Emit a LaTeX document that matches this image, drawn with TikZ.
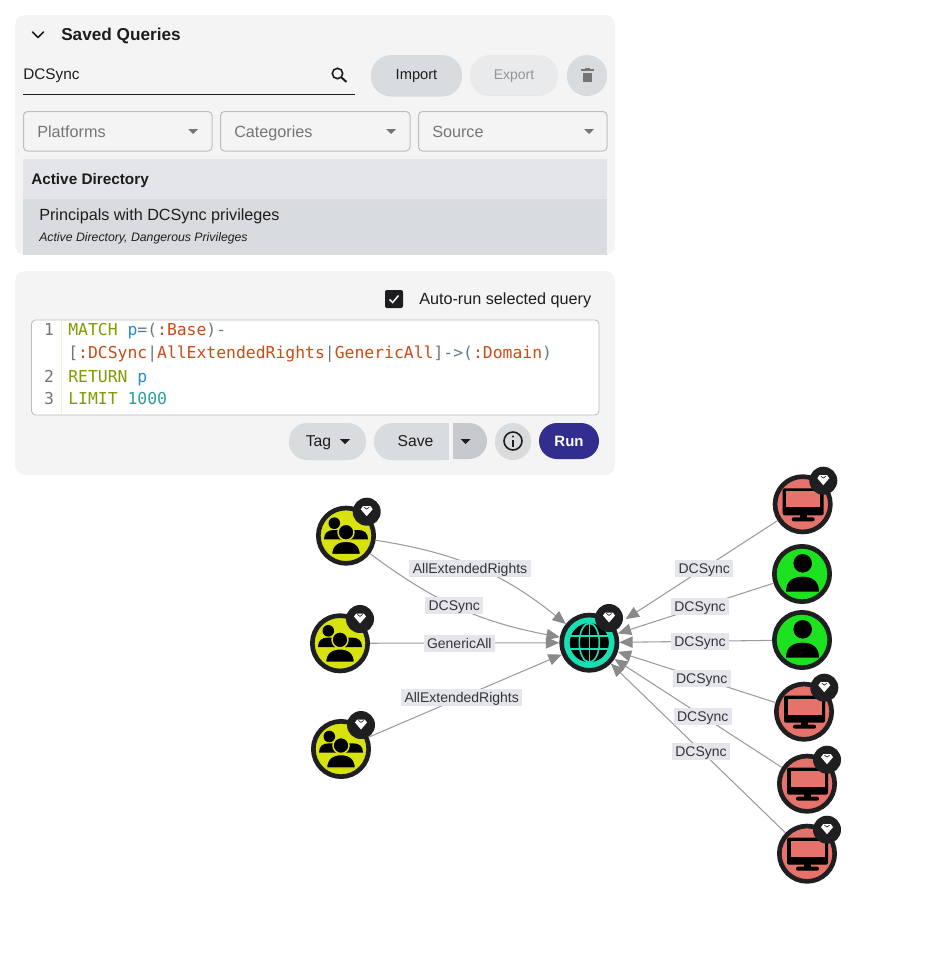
\documentclass[tikz,border=0pt]{standalone}
\usepackage{fontspec}
\setmainfont{Liberation Sans}
\setmonofont{DejaVu Sans Mono}
\usetikzlibrary{arrows.meta}
\definecolor{panelbg}{HTML}{F4F4F5}
\definecolor{btn}{HTML}{D9DCDF}
\definecolor{btnlight}{HTML}{E8EAEC}
\definecolor{btndark}{HTML}{C6CACE}
\definecolor{hdr}{HTML}{E3E5E8}
\definecolor{ink}{HTML}{1D1D1F}
\definecolor{hint}{HTML}{757575}
\definecolor{rule}{HTML}{BDBDBD}
\definecolor{runblue}{HTML}{312E8F}
\definecolor{kw}{HTML}{859900}
\definecolor{varc}{HTML}{268BD2}
\definecolor{lab}{HTML}{CB4B16}
\definecolor{punc}{HTML}{657B83}
\definecolor{numc}{HTML}{2AA198}
\definecolor{gutter}{HTML}{FBEBD8}
\definecolor{grp}{HTML}{D7E20F}
\definecolor{dom}{HTML}{19E0B4}
\definecolor{comp}{HTML}{E5736B}
\definecolor{usr}{HTML}{1DE21F}
\definecolor{stroke}{HTML}{1F1F21}
\definecolor{edgec}{HTML}{9C9C9C}
\definecolor{tipc}{HTML}{8A8A8A}
\definecolor{labbg}{HTML}{E4E6EB}
\newcommand{\codefont}{\ttfamily\fontsize{12.3pt}{14pt}\selectfont}
\tikzset{
  txt/.style={inner sep=0pt,anchor=west,yshift=-1.1pt,text=ink,text height=9pt,text depth=2.5pt,font=\fontsize{12.15pt}{14pt}\selectfont},
  hinttxt/.style={txt,text=hint},
  btntxt/.style={inner sep=0pt,yshift=-0.8pt,text=ink,text height=9pt,text depth=2.5pt,font=\fontsize{11pt}{12pt}\selectfont},
  code/.style={inner sep=0pt,anchor=base west,font=\codefont},
  lnum/.style={inner sep=0pt,anchor=base,text=hint,font=\codefont},
  caret/.style={fill=#1,draw=none},
  entity/.style={circle,draw=stroke,line width=3.5pt,minimum size=41.5pt,inner sep=0pt,fill=#1},
  badge/.style={circle,fill=stroke,minimum size=21pt,inner sep=0pt},
  edge/.style={draw=edgec,line width=0.8pt,-{Triangle[length=10pt,width=8.5pt,fill=tipc,color=tipc]}},
  elabel/.style={fill=labbg,text=ink!90,inner xsep=2.5pt,inner ysep=0pt,minimum height=12.75pt,text height=8.6pt,text depth=0.9pt,font=\fontsize{10.5pt}{12pt}\selectfont},
  pics/gem/.style={code={
    \fill[white] (-6,-2.5)--(-3.8,-5.5)--(3.8,-5.5)--(6,-2.5)--(0,4.5)--cycle;
    \draw[stroke,line width=0.4pt] (-2.6,-4.6)--(0,-2.6)--(2.6,-4.6);
  }},
  pics/groupicon/.style={code={
    \fill[black] (-11.7,-12.5) circle[radius=5.8];
    \fill[black] (-22,3.7)--(22,3.7) .. controls (22,-3) and (18,-5.7) .. (12,-5.7) -- (-12,-5.7) .. controls (-18,-5.7) and (-22,-3) .. (-22,3.7) -- cycle;
    \filldraw[black,draw=grp,line width=1.1pt] (0,-3.5) circle[radius=8];
    \filldraw[black,draw=grp,line width=1.1pt] (-14.5,19) -- (14.5,19) .. controls (14.5,10) and (9,5.5) .. (0,5.5) .. controls (-9,5.5) and (-14.5,10) .. (-14.5,19) -- cycle;
  }},
  pics/usericon/.style={code={
    \fill[black] (0.7,-10.7) circle[radius=9.3];
    \fill[black] (-16,17.7) -- (17,17.7) .. controls (17,7) and (10,2.7) .. (0.5,2.7) .. controls (-9,2.7) and (-16,7) .. (-16,17.7) -- cycle;
  }},
  pics/compicon/.style={code={
    \fill[black,rounded corners=1.5pt] (-20,-16) rectangle (21,11);
    \fill[comp] (-16.5,-13) rectangle (17.5,3);
    \fill[black] (-3,10) rectangle (4,15);
    \fill[black,rounded corners=1.5pt] (-11,13) rectangle (12,17);
  }},
  pics/globeicon/.style={code={
    \fill[black] (0,0) circle[radius=19.5];
    \draw[dom,line width=1.2pt] (-20,-6.5)--(20,-6.5) (-20,6.5)--(20,6.5) (0,-20)--(0,20);
    \draw[dom,line width=1.2pt] (0,0) ellipse[x radius=10,y radius=19.5];
  }},
}
\begin{document}
\begin{tikzpicture}[x=0.75pt,y=-0.75pt]
\useasboundingbox (0,0) rectangle (933,960);
% ---------- panel 1
\fill[panelbg,rounded corners=7.5pt] (15,15) rectangle (615,255);
\draw[ink,line width=1.2pt,line cap=round,line join=round] (32.5,32)--(38,37.5)--(43.5,32);
\node[txt,font=\bfseries\fontsize{12.9pt}{15pt}\selectfont] (title) at (61,35) {Saved Queries};
\node[txt,font=\fontsize{11.5pt}{14pt}\selectfont] (search) at (23,74) {DCSync};
\draw[ink,line width=0.75pt] (23,94.5)--(355,94.5);
\draw[ink,line width=1.2pt] (337.5,73.5) circle[radius=5.2];
\draw[ink,line width=1.5pt] (341.5,77.5)--(346.5,82);
% buttons
\fill[btndark!70,rounded corners=15pt] (371,56.5) rectangle (462,96.5);
\fill[btn,rounded corners=15pt] (371,55) rectangle (462,95);
\node[btntxt] (import) at (416.5,74.5) {Import};
\fill[btnlight!90!btndark,rounded corners=15pt] (470,56) rectangle (558,96);
\fill[btnlight,rounded corners=15pt] (470,55) rectangle (558,95);
\node[btntxt,text=black!42,font=\fontsize{10.5pt}{12pt}\selectfont] (export) at (514,74.5) {Export};
\fill[btndark!70] (587,76) circle[radius=20];
\fill[btn] (587,75) circle[radius=20];
\fill[hint] (582.5,72.5) rectangle (592,82);
\fill[hint] (581,69) rectangle (594,71);
\fill[hint] (585,68) rectangle (590,69.5);
% dropdowns
\draw[rule,line width=0.75pt,rounded corners=3pt] (23.5,111.5) rectangle (212,151);
\draw[rule,line width=0.75pt,rounded corners=3pt] (220.5,111.5) rectangle (410,151);
\draw[rule,line width=0.75pt,rounded corners=3pt] (418.5,111.5) rectangle (607,151);
\node[hinttxt] (plat) at (37,131.5) {Platforms};
\node[hinttxt] (cats) at (234,131.5) {Categories};
\node[hinttxt] (src) at (432,131.5) {Source};
\fill[caret=hint] (188,129)--(198,129)--(193,134)--cycle;
\fill[caret=hint] (386,129)--(396,129)--(391,134)--cycle;
\fill[caret=hint] (584,129)--(594,129)--(589,134)--cycle;
% list
\fill[hdr] (23,159) rectangle (607,199);
\fill[btn] (23,199) rectangle (607,255);
\node[txt,font=\bfseries\fontsize{11.5pt}{14pt}\selectfont] (adhead) at (31,179) {Active Directory};
\node[txt] (query) at (39,214.5) {Principals with DCSync privileges};
\node[txt,font=\itshape\fontsize{9.2pt}{10pt}\selectfont] (querysub) at (39,235.5) {Active Directory, Dangerous Privileges};
% ---------- panel 2
\fill[panelbg,rounded corners=7.5pt] (15,271) rectangle (615,475);
\fill[ink,rounded corners=1.5pt] (385,290) rectangle (403,308);
\draw[white,line width=1.1pt] (389.5,299.5)--(392.7,302.5)--(398.5,295.5);
\node[txt] (auto) at (419,298.5) {Auto-run selected query};
% editor
\fill[white,draw=rule,line width=0.6pt,rounded corners=3pt] (31.5,320) rectangle (599,415);
\fill[gutter] (60.5,321) rectangle (62,414);
\node[lnum] (n1) at (49,335.5) {1};
\node[lnum] (n2) at (49,382) {2};
\node[lnum] (n3) at (49,404.5) {3};
\node[code] (c1) at (68,335.5) {\textcolor{kw}{MATCH} \textcolor{varc}{p}\textcolor{punc}{=(}\textcolor{lab}{:Base}\textcolor{punc}{)-}};
\node[code] (c2) at (68,358.5) {\textcolor{punc}{[}\textcolor{lab}{:DCSync}\textcolor{punc}{|}\textcolor{lab}{AllExtendedRights}\textcolor{punc}{|}\textcolor{lab}{GenericAll}\textcolor{punc}{]->(}\textcolor{lab}{:Domain}\textcolor{punc}{)}};
\node[code] (c3) at (68,382) {\textcolor{kw}{RETURN} \textcolor{varc}{p}};
\node[code] (c4) at (68,404.5) {\textcolor{kw}{LIMIT} \textcolor{numc}{1000}};
% action buttons
\fill[btndark!70,rounded corners=13.5pt] (289,424) rectangle (366,460);
\fill[btn,rounded corners=13.5pt] (289,423) rectangle (366,459);
\node[btntxt,font=\fontsize{11.8pt}{14pt}\selectfont] (tag) at (318.5,441) {Tag};
\fill[caret=ink] (340,439)--(350,439)--(345,444)--cycle;
\fill[btndark!70,rounded corners=13.5pt] (374,424) rectangle (460,460);
\fill[btn,rounded corners=13.5pt] (374,423) rectangle (460,459);
\fill[btndark,rounded corners=13.5pt] (440,423) rectangle (487,459);
\fill[btndark] (449,423) rectangle (470,459);
\fill[btn] (430,423) rectangle (449,459);
\fill[btndark!70] (430,459) rectangle (449,460);
\fill[panelbg] (449,423) rectangle (453,460);
\node[btntxt,font=\fontsize{11.8pt}{14pt}\selectfont] (save) at (415.5,441) {Save};
\fill[caret=ink] (460.5,439)--(470.5,439)--(465.5,444)--cycle;
\fill[btndark!70] (513,442) circle[radius=18];
\fill[btn] (513,441) circle[radius=18];
\draw[ink,line width=1.2pt] (513,441) circle[radius=9];
\fill[ink] (512,439.5) rectangle (514,446.5);
\fill[ink] (513,436.5) circle[radius=1.2];
\fill[runblue,rounded corners=13.5pt] (539,423) rectangle (599,459);
\node[btntxt,text=white,font=\bfseries\fontsize{11.2pt}{14pt}\selectfont] (run) at (569,441) {Run};
% ---------- graph nodes
\node[entity=grp] (g1) at (346,535.7) {};
\node[entity=grp] (g2) at (340,643.3) {};
\node[entity=grp] (g3) at (341,749) {};
\node[entity=dom] (domain) at (589.3,642.7) {};
\node[entity=comp] (m1) at (802.7,504.3) {};
\node[entity=usr] (u1) at (802,574) {};
\node[entity=usr] (u2) at (802,640) {};
\node[entity=comp] (m2) at (804,711.7) {};
\node[entity=comp] (m3) at (807,783.7) {};
\node[entity=comp] (m4) at (807,853.7) {};
% edges
\draw[edge] (g1) to[bend left=15] (domain);
\draw[edge] (g1) to[bend right=13] (domain);
\draw[edge] (g2) -- (domain);
\draw[edge] (g3) -- (domain);
\draw[edge,shorten >=10pt] (m1) -- (domain);
\draw[edge] (u1) -- (domain);
\draw[edge] (u2) -- (domain);
\draw[edge] (m2) -- (domain);
\draw[edge] (m3) -- (domain);
\draw[edge] (m4) -- (domain);
% edge labels
\node[elabel,minimum width=89pt] (l1) at (470,568.3) {AllExtendedRights};
\node[elabel,minimum width=42pt] (l2) at (454.3,605) {DCSync};
\node[elabel,minimum width=52pt] (l3) at (459.3,643.3) {GenericAll};
\node[elabel,minimum width=89pt] (l4) at (461.7,697.3) {AllExtendedRights};
\node[elabel,minimum width=42pt] (l5) at (704.3,568.3) {DCSync};
\node[elabel,minimum width=42pt] (l6) at (700,606.7) {DCSync};
\node[elabel,minimum width=42pt] (l7) at (700,641.3) {DCSync};
\node[elabel,minimum width=42pt] (l8) at (701.7,678.7) {DCSync};
\node[elabel,minimum width=42pt] (l9) at (702.7,716) {DCSync};
\node[elabel,minimum width=42pt] (l10) at (701,751.3) {DCSync};
% icons
\pic at (346,535.7) {groupicon};
\pic at (340,643.3) {groupicon};
\pic at (341,749) {groupicon};
\pic at (589.3,642.7) {globeicon};
\pic at (802.7,504.3) {compicon};
\pic at (802,574) {usericon};
\pic at (802,640) {usericon};
\pic at (804,711.7) {compicon};
\pic at (807,783.7) {compicon};
\pic at (807,853.7) {compicon};
% badges
\node[badge] (b1) at (366.7,511.7) {};
\pic at (366.7,511.7) {gem};
\node[badge] (b2) at (360,619) {};
\pic at (360,619) {gem};
\node[badge] (b3) at (361,725) {};
\pic at (361,725) {gem};
\node[badge] (b4) at (609,618) {};
\pic at (609,618) {gem};
\node[badge] (b5) at (823.3,480.7) {};
\pic at (823.3,480.7) {gem};
\node[badge] (b6) at (824.3,687.7) {};
\pic at (824.3,687.7) {gem};
\node[badge] (b7) at (827,759.7) {};
\pic at (827,759.7) {gem};
\node[badge] (b8) at (827,829.7) {};
\pic at (827,829.7) {gem};
\end{tikzpicture}
\end{document}
